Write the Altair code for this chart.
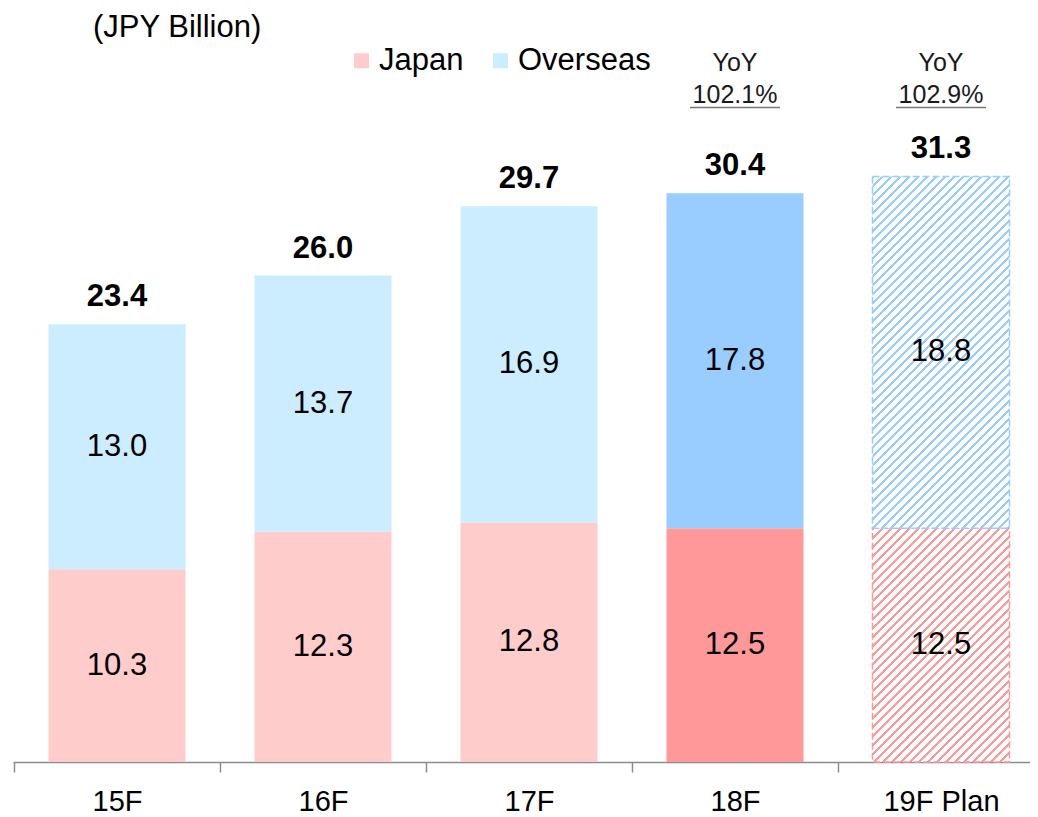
import altair as alt
import pandas as pd

# ---- data ----
categories = ["15F", "16F", "17F", "18F", "19F Plan"]
japan = [10.3, 12.3, 12.8, 12.5, 12.5]
overseas = [13.0, 13.7, 16.9, 17.8, 18.8]
totals = [23.4, 26.0, 29.7, 30.4, 31.3]
yoy_cats = ["18F", "19F Plan"]
yoy_values = ["102.1%", "102.9%"]
regions = ["Japan", "Overseas"]
unit_title = "(JPY Billion)"

# ---- styling ----
FONT = "Liberation Sans"
PL, PT = 5, 3
W, H = 1017, 751
YMAX = 40.14
PAD_IN, PAD_OUT, ALIGN = 0.335, 0.136, 0.634
pale = {"Japan": "#FFCCCC", "Overseas": "#CCECFF"}
strong = {"Japan": "#FF9999", "Overseas": "#99CCFF"}

step = W / (len(categories) - PAD_IN + 2 * PAD_OUT)
bw = step * (1 - PAD_IN)
pxu = H / YMAX

# ---- tables ----
rows = []
for c, j, o, t in zip(categories, japan, overseas, totals):
    rows.append(dict(cat=c, region="Japan", y0=0.0, y1=j, mid=j / 2, label=f"{j:.1f}"))
    rows.append(dict(cat=c, region="Overseas", y0=j, y1=t, mid=(j + t) / 2, label=f"{o:.1f}"))
seg = pd.DataFrame(rows)
seg["hex"] = seg["region"].map(strong)
tot = pd.DataFrame(dict(cat=categories, total=totals, label=[f"{t:.1f}" for t in totals]))
yoy = pd.DataFrame(dict(cat=yoy_cats, pct=yoy_values, word=["YoY"] * len(yoy_cats)))

xscale = alt.Scale(domain=categories, paddingInner=PAD_IN, paddingOuter=PAD_OUT, align=ALIGN)
yscale = alt.Scale(domain=[0, YMAX], nice=False, zero=True)
X = alt.X("cat:N", scale=xscale, sort=categories, title=None,
          axis=alt.Axis(labelAngle=0, labelFontSize=29, labelFont=FONT, labelColor="black",
                        domainColor="#8C8C8C", domainWidth=1.5, tickColor="#8C8C8C",
                        tickWidth=1.5, tickSize=10, tickOffset=-step / 2, labelOffset=step / 2,
                        labelPadding=15, grid=False))


def Yq(field):
    return alt.Y(field, scale=yscale, axis=None, title=None)


# hatch gradient (diagonal stripes) for the plan bar
def hatch(color, h, w=bw, period=9.0, frac=0.3):
    span = w + h
    P = period / span
    stops = []
    t = 0.0
    while t < 1.0:
        a = min(t + frac * P, 1.0)
        b = min(t + P, 1.0)
        stops += [dict(offset=t, color=color), dict(offset=a, color=color),
                  dict(offset=a, color="#FFFFFF"), dict(offset=b, color="#FFFFFF")]
        t += P
    k = span / (w * w + h * h)
    return dict(gradient="linear", x1=0, y1=0, x2=k * w, y2=k * h, stops=stops)


normal = seg[seg["cat"].isin(categories[:3])]
actual = seg[seg["cat"] == categories[3]]
plan_j = seg[(seg["cat"] == categories[4]) & (seg["region"] == "Japan")]
plan_o = seg[(seg["cat"] == categories[4]) & (seg["region"] == "Overseas")]

bars_normal = alt.Chart(normal).mark_bar().encode(
    x=X, y=Yq("y0:Q"), y2="y1:Q",
    color=alt.Color("region:N", scale=alt.Scale(domain=regions, range=[pale[r] for r in regions]),
                    legend=alt.Legend(orient="none", legendX=333, legendY=34, direction="horizontal",
                                      title=None, symbolType="square", symbolSize=225,
                                      symbolStrokeWidth=0, symbolOpacity=1, labelFontSize=31,
                                      labelFont=FONT, labelColor="black", labelOffset=2,
                                      columnPadding=21, padding=0, labelLimit=400)),
)
bars_actual = alt.Chart(actual).mark_bar().encode(
    x=X, y=Yq("y0:Q"), y2="y1:Q", fill=alt.Fill("hex:N", scale=None, legend=None),
)
hj = (plan_j["y1"].iloc[0] - plan_j["y0"].iloc[0]) * pxu
ho = (plan_o["y1"].iloc[0] - plan_o["y0"].iloc[0]) * pxu
bars_plan_j = alt.Chart(plan_j).mark_bar(
    fill=hatch(strong["Japan"], hj), stroke=strong["Japan"], strokeDash=[7, 3], strokeWidth=1.5
).encode(x=X, y=Yq("y0:Q"), y2="y1:Q")
bars_plan_o = alt.Chart(plan_o).mark_bar(
    fill=hatch(strong["Overseas"], ho), stroke=strong["Overseas"], strokeDash=[7, 3], strokeWidth=1.5
).encode(x=X, y=Yq("y0:Q"), y2="y1:Q")

seg_text = alt.Chart(seg).mark_text(font=FONT, fontSize=31, color="black", baseline="middle").encode(
    x=X, y=Yq("mid:Q"), text="label:N")
tot_text = alt.Chart(tot).mark_text(font=FONT, fontSize=31, fontWeight="bold", color="black",
                                    baseline="alphabetic", dy=-18).encode(
    x=X, y=Yq("total:Q"), text="label:N")

yoy_word = alt.Chart(yoy).mark_text(font=FONT, fontSize=25, color="#1A1A1A", baseline="alphabetic").encode(
    x=X, y=alt.value(60), text="word:N")
yoy_pct = alt.Chart(yoy).mark_text(font=FONT, fontSize=25, color="#1A1A1A", baseline="alphabetic").encode(
    x=X, y=alt.value(92), text="pct:N")
yoy_line = alt.Chart(yoy).mark_tick(orient="horizontal", size=90, thickness=1.5, color="#404040").encode(
    x=X, y=alt.value(96.5))

title_text = alt.Chart(pd.DataFrame(dict(t=[unit_title]))).mark_text(
    font=FONT, fontSize=31, color="black", align="left", baseline="alphabetic").encode(
    text="t:N", x=alt.value(93 - 8 - PL), y=alt.value(26))

chart = alt.layer(
    bars_normal, bars_actual, bars_plan_j, bars_plan_o,
    seg_text, tot_text, yoy_word, yoy_pct, yoy_line, title_text,
).properties(
    width=W, height=H,
    autosize=alt.AutoSizeParams(type="none"),
    padding={"left": PL, "top": PT, "right": 0, "bottom": 56},
    background="white",
).configure(font=FONT).configure_view(stroke=None)

chart.save("out.html", embed_options={"renderer": "svg", "actions": False})
